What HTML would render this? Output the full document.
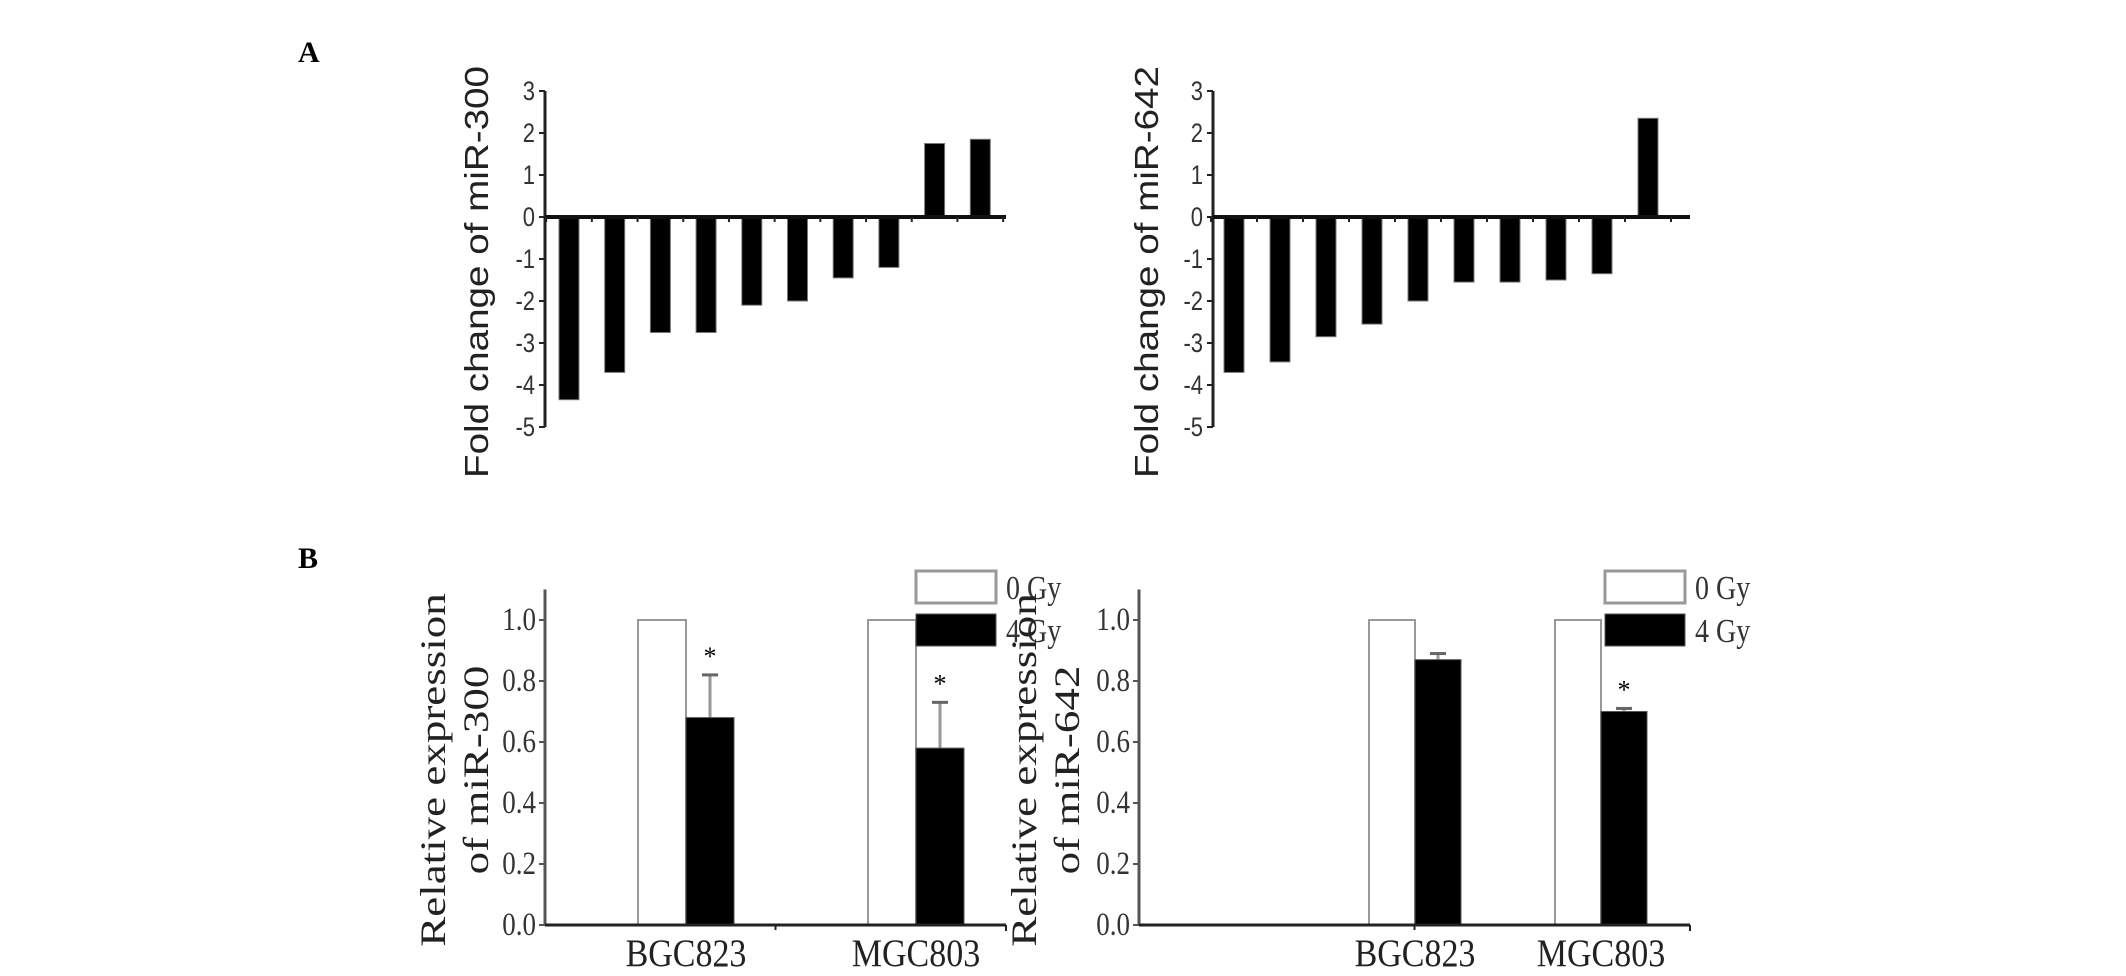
<!DOCTYPE html>
<html><head><meta charset="utf-8">
<style>
html,body{margin:0;padding:0;background:#fff;}
svg{display:block;}
</style></head>
<body>
<svg id="fig" width="2126" height="976" viewBox="0 0 2126 976" xmlns="http://www.w3.org/2000/svg">
<text x="298" y="62" font-family="Liberation Serif, serif" font-weight="bold" font-size="30">A</text>
<text x="298" y="568" font-family="Liberation Serif, serif" font-weight="bold" font-size="30">B</text>
</svg>
<script>
// Panel A data
const aLeftValues = [-4.35, -3.7, -2.75, -2.75, -2.1, -2.0, -1.45, -1.2, 1.75, 1.85];
const aRightValues = [-3.7, -3.45, -2.85, -2.55, -2.0, -1.55, -1.55, -1.5, -1.35, 2.35];
const aTicks = [3, 2, 1, 0, -1, -2, -3, -4, -5];
// Panel B data
const bCategories = ['BGC823', 'MGC803'];
const bLeftCtrl = [1.0, 1.0];
const bLeftTreat = [0.68, 0.58];
const bLeftErr = [0.14, 0.15];
const bLeftSig = [true, true];
const bRightCtrl = [1.0, 1.0];
const bRightTreat = [0.87, 0.70];
const bRightErr = [0.02, 0.01];
const bRightSig = [false, true];
const bTicks = [0.0, 0.2, 0.4, 0.6, 0.8, 1.0];
const legendLabels = ['0 Gy', '4 Gy'];

const NS = 'http://www.w3.org/2000/svg';
const svg = document.getElementById('fig');
function mk(tag, attrs, parent) {
  const e = document.createElementNS(NS, tag);
  for (const k in attrs) e.setAttribute(k, attrs[k]);
  (parent || svg).appendChild(e);
  return e;
}

function panelA(cfg, values, title) {
  const g = mk('g', {});
  
  
  const y = v => cfg.y0 - v * cfg.unit;
  const x = i => cfg.x0 + i * cfg.step;
  values.forEach((v, i) => {
    const r = mk('rect', {x: x(i), y: Math.min(y(v), y(0)), width: cfg.bw, height: Math.abs(y(v) - y(0)), fill: '#000', stroke: '#777', 'stroke-width': 1}, g);
    
    
  });
  const ya = mk('line', {x1: cfg.ax, y1: y(3), x2: cfg.ax, y2: y(-5), stroke: '#222', 'stroke-width': 3}, g);
  
  
  aTicks.forEach(t => {
    mk('line', {x1: cfg.ax - 6, y1: y(t), x2: cfg.ax, y2: y(t), stroke: '#222', 'stroke-width': 2}, g);
    const tl = mk('text', {x: 0, y: 0, transform: `translate(${cfg.ax - 10},${y(t) + 9}) scale(1,1.2)`, 'text-anchor': 'end', 'font-family': 'Liberation Sans, sans-serif', 'font-size': 22, fill: '#333'}, g);
    tl.textContent = t;
    
    
  });
  const xa = mk('line', {x1: cfg.ax, y1: y(0), x2: cfg.xend, y2: y(0), stroke: '#111', 'stroke-width': 4}, g);
  
  
  for (let i = 0; i <= values.length; i++) {
    mk('line', {x1: x(i) - (cfg.step - cfg.bw) / 2, y1: y(0), x2: x(i) - (cfg.step - cfg.bw) / 2, y2: y(0) + 5, stroke: '#222', 'stroke-width': 2}, g);
  }
  const tt = mk('text', {x: 0, y: 0, transform: `translate(${cfg.tx},${cfg.ty}) rotate(-90) scale(1.17,1)`, 'text-anchor': 'middle', 'font-family': 'Liberation Sans, sans-serif', 'font-size': 33, fill: '#222'}, g);
  tt.textContent = title;
  
  
}

panelA({name: 'chart-a-mir300', x0: 559, step: 45.7, bw: 20, y0: 217, unit: 42, ax: 545, xend: 1006, tx: 488, ty: 272}, aLeftValues, 'Fold change of miR-300');
panelA({name: 'chart-a-mir642', x0: 1224, step: 46, bw: 20, y0: 217, unit: 42, ax: 1213, xend: 1690, tx: 1158, ty: 272}, aRightValues, 'Fold change of miR-642');

function panelB(cfg, ctrl, treat, err, sig, title1, title2) {
  const g = mk('g', {});
  
  
  const y = v => cfg.y0 - v * cfg.unit;
  bCategories.forEach((c, i) => {
    const cx = cfg.cats[i];
    const w = mk('rect', {x: cx - cfg.bw, y: y(ctrl[i]), width: cfg.bw, height: y(0) - y(ctrl[i]), fill: '#fff', stroke: '#999', 'stroke-width': 2}, g);
    
    
    mk('line', {x1: cx + cfg.bw / 2, y1: y(treat[i]), x2: cx + cfg.bw / 2, y2: y(treat[i] + err[i]), stroke: '#999', 'stroke-width': 3}, g);
    mk('line', {x1: cx + cfg.bw / 2 - 8, y1: y(treat[i] + err[i]), x2: cx + cfg.bw / 2 + 8, y2: y(treat[i] + err[i]), stroke: '#666', 'stroke-width': 3}, g);
    const b = mk('rect', {x: cx, y: y(treat[i]), width: cfg.bw, height: y(0) - y(treat[i]), fill: '#000', stroke: '#555', 'stroke-width': 1}, g);
    
    
    if (sig[i]) {
      const s = mk('text', {x: cx + cfg.bw / 2, y: y(treat[i] + err[i]) - 10, 'text-anchor': 'middle', 'font-family': 'Liberation Serif, serif', 'font-size': 26}, g);
      s.textContent = '*';
      
      
    }
    const cl = mk('text', {x: 0, y: 0, transform: `translate(${cx},966) scale(1,1.15)`, 'text-anchor': 'middle', 'font-family': 'Liberation Serif, serif', 'font-size': 34, fill: '#222'}, g);
    cl.textContent = c;
    
    
  });
  const ya = mk('line', {x1: cfg.ax, y1: y(1.1), x2: cfg.ax, y2: y(0), stroke: '#555', 'stroke-width': 3}, g);
  
  
  bTicks.forEach(t => {
    mk('line', {x1: cfg.ax - 6, y1: y(t), x2: cfg.ax, y2: y(t), stroke: '#555', 'stroke-width': 2}, g);
    const tl = mk('text', {x: 0, y: 0, transform: `translate(${cfg.ax - 9},${y(t) + 10}) scale(1,1.2)`, 'text-anchor': 'end', 'font-family': 'Liberation Serif, serif', 'font-size': 27, fill: '#333'}, g);
    tl.textContent = t.toFixed(1);
    
    
  });
  const xa = mk('line', {x1: cfg.ax, y1: y(0), x2: cfg.xend, y2: y(0), stroke: '#222', 'stroke-width': 3}, g);
  
  
  mk('line', {x1: (cfg.ax + cfg.xend) / 2, y1: y(0), x2: (cfg.ax + cfg.xend) / 2, y2: y(0) + 5, stroke: '#222', 'stroke-width': 2}, g);
  mk('line', {x1: cfg.xend, y1: y(0), x2: cfg.xend, y2: y(0) + 6, stroke: '#222', 'stroke-width': 2}, g);
  const t1 = mk('text', {x: 0, y: 0, transform: `translate(${cfg.tx1},${cfg.ty}) rotate(-90) scale(1.25,1)`, 'text-anchor': 'middle', 'font-family': 'Liberation Serif, serif', 'font-size': 36, fill: '#222'}, g);
  t1.textContent = title1;
  
  
  const t2 = mk('text', {x: 0, y: 0, transform: `translate(${cfg.tx2},${cfg.ty}) rotate(-90) scale(1.25,1)`, 'text-anchor': 'middle', 'font-family': 'Liberation Serif, serif', 'font-size': 36, fill: '#222'}, g);
  t2.textContent = title2;
  
  
  const lg = mk('g', {}, g);
  
  
  mk('rect', {x: cfg.lx, y: 571, width: 80, height: 32, fill: '#fff', stroke: '#999', 'stroke-width': 3}, lg);
  mk('rect', {x: cfg.lx, y: 614, width: 80, height: 32, fill: '#000', stroke: '#555', 'stroke-width': 1}, lg);
  legendLabels.forEach((l, i) => {
    const lt = mk('text', {x: 0, y: 0, transform: `translate(${cfg.lx + 90},${599 + i * 43}) scale(1,1.2)`, 'font-family': 'Liberation Serif, serif', 'font-size': 28, fill: '#333'}, lg);
    lt.textContent = l;
    
    
  });
}

panelB({name: 'chart-b-mir300', ax: 545, xend: 1006, y0: 925, unit: 305, cats: [686, 916], bw: 48, tx1: 445, tx2: 488, ty: 770, lx: 916}, bLeftCtrl, bLeftTreat, bLeftErr, bLeftSig, 'Relative expression', 'of miR-300');
panelB({name: 'chart-b-mir642', ax: 1139, xend: 1690, y0: 925, unit: 305, cats: [1415, 1601], bw: 46, tx1: 1036, tx2: 1079, ty: 770, lx: 1605}, bRightCtrl, bRightTreat, bRightErr, bRightSig, 'Relative expression', 'of miR-642');
</script>
</body></html>
